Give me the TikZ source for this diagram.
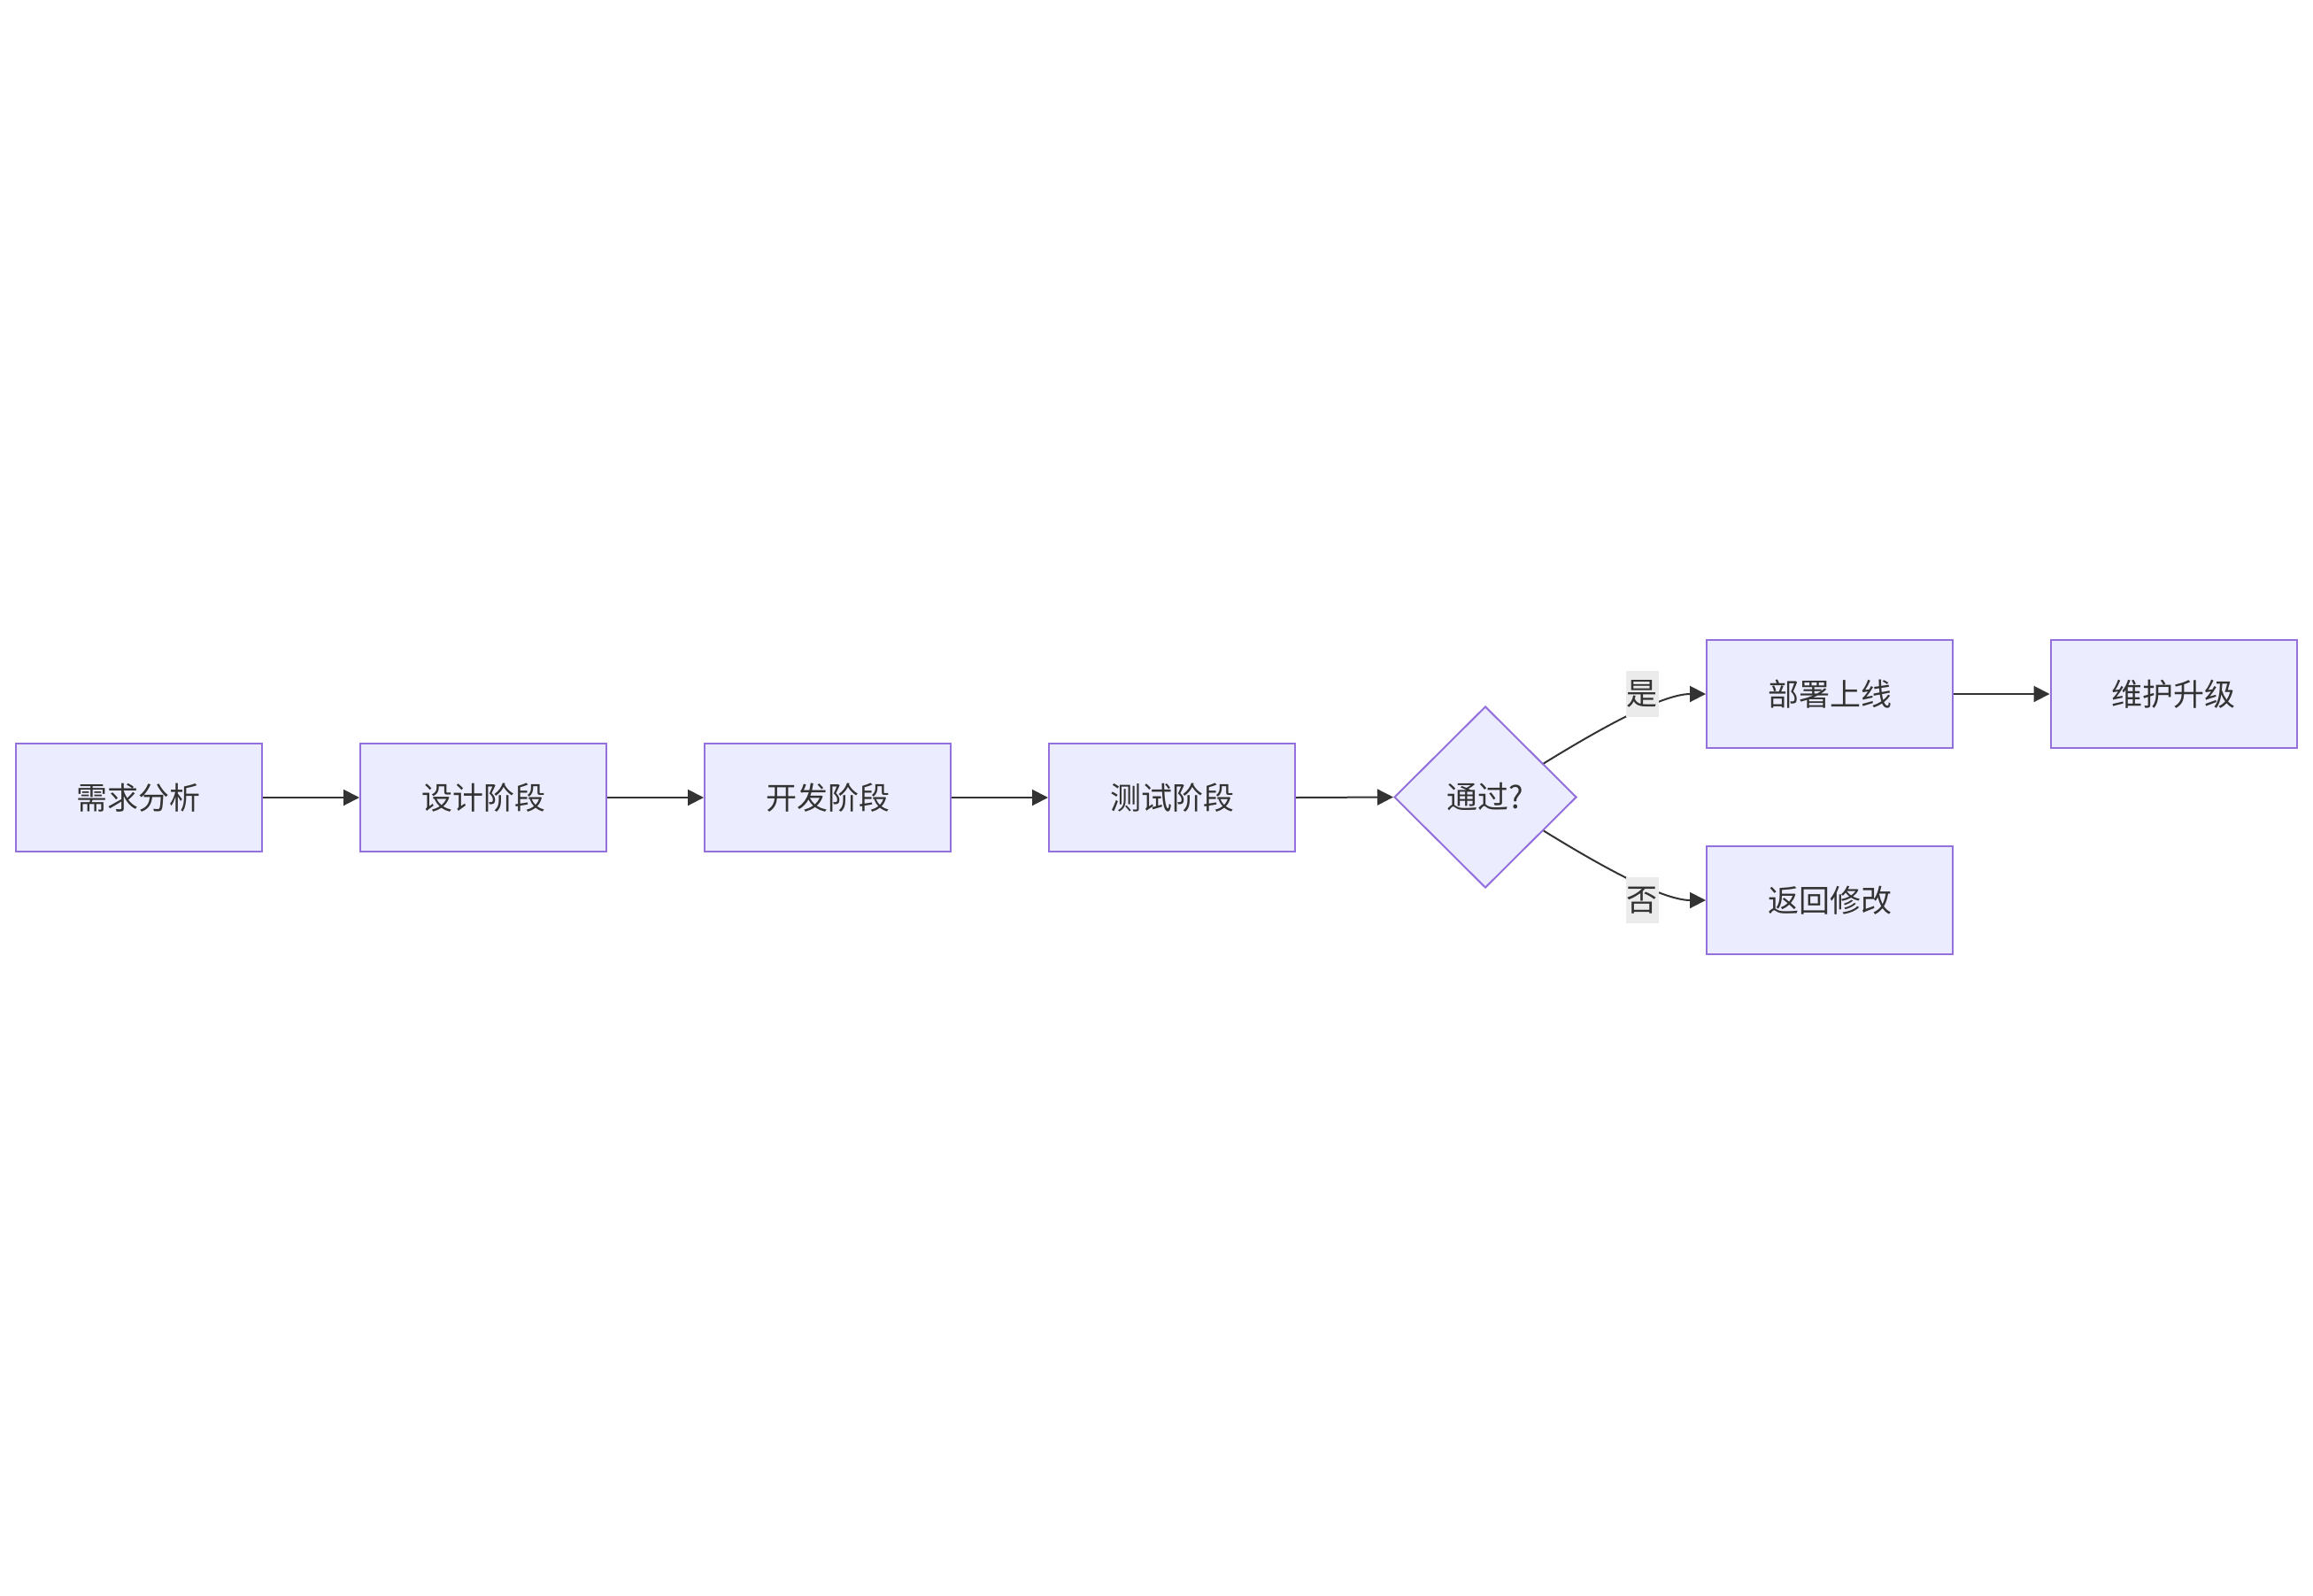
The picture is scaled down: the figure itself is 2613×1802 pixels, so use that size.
\documentclass[tikz,border=0pt]{standalone}
\usepackage{fontspec}
\setmainfont{Noto Sans CJK SC}
\usetikzlibrary{shapes.geometric,arrows.meta}
\definecolor{nodefill}{HTML}{ECECFF}
\definecolor{nodeline}{HTML}{9370DB}
\definecolor{txt}{HTML}{333333}
\definecolor{edgecol}{HTML}{333333}
\definecolor{lblbg}{HTML}{EBEBEB}
\tikzset{
  stepbox/.style={draw=nodeline, fill=nodefill, line width=2pt, minimum width=278pt, minimum height=122pt, inner sep=0pt, text=txt, font=\fontsize{35}{42}\selectfont},
  decision/.style={shape=diamond, draw=nodeline, fill=nodefill, line width=2pt, minimum width=206pt, minimum height=205pt, inner sep=0pt, text=txt, font=\fontsize{35}{42}\selectfont},
  edge/.style={draw=edgecol, line width=2pt, -{Triangle[length=18pt,width=18pt]}},
  elabel/.style={fill=lblbg, inner sep=0pt, minimum width=37pt, minimum height=52pt, text=txt, font=\fontsize{35}{42}\selectfont}
}
\begin{document}
\begin{tikzpicture}[x=1pt,y=-1pt]
\useasboundingbox (0,0) rectangle (2613,1802);
\node[stepbox] (A) at (156.5,901) {需求分析};
\node[stepbox] (B) at (546,901) {设计阶段};
\node[stepbox] (C) at (935,901) {开发阶段};
\node[stepbox] (D) at (1324,901) {测试阶段};
\node[decision] (E) at (1678,900.5) {通过?};
\node[stepbox] (F) at (2067,784) {部署上线};
\node[stepbox] (G) at (2455.5,784) {维护升级};
\node[stepbox] (H) at (2067,1017) {返回修改};
\draw[edge] (A.east) -- (B.west);
\draw[edge] (B.east) -- (C.west);
\draw[edge] (C.east) -- (D.west);
\draw[edge] (D.east) -- (E.west);
\draw[edge] (F.east) -- (G.west);
\draw[edge] (E.30) .. controls +(60,-37) and +(-50,0) .. (F.west);
\draw[edge] (E.-30) .. controls +(60,37) and +(-50,0) .. (H.west);
\node[elabel] (Ly) at (1855,784) {是};
\node[elabel] (Ln) at (1855,1017) {否};
\end{tikzpicture}
\end{document}
